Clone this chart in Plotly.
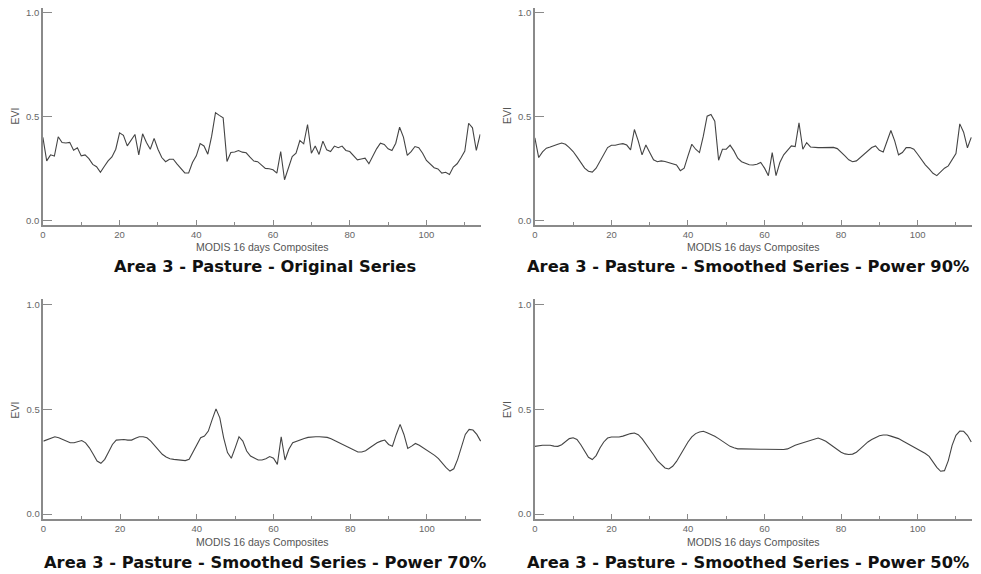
import plotly.graph_objects as go

x_vals = list(range(115))

original = [0.400, 0.287, 0.316, 0.310, 0.403, 0.375, 0.373, 0.376, 0.338, 0.350,
            0.311, 0.316, 0.298, 0.270, 0.259, 0.232, 0.260, 0.287, 0.306, 0.343,
            0.422, 0.410, 0.359, 0.390, 0.414, 0.316, 0.417, 0.375, 0.343, 0.395,
            0.343, 0.303, 0.283, 0.295, 0.295, 0.271, 0.248, 0.229, 0.229, 0.279,
            0.311, 0.370, 0.359, 0.319, 0.406, 0.519, 0.506, 0.494, 0.284, 0.327,
            0.330, 0.337, 0.329, 0.326, 0.305, 0.286, 0.283, 0.265, 0.251, 0.249,
            0.244, 0.228, 0.332, 0.196, 0.254, 0.308, 0.324, 0.385, 0.369, 0.462,
            0.324, 0.359, 0.318, 0.382, 0.340, 0.332, 0.358, 0.350, 0.358, 0.337,
            0.332, 0.313, 0.292, 0.296, 0.300, 0.273, 0.308, 0.345, 0.372, 0.366,
            0.345, 0.337, 0.372, 0.449, 0.401, 0.313, 0.332, 0.356, 0.350, 0.324,
            0.289, 0.273, 0.254, 0.248, 0.228, 0.232, 0.222, 0.257, 0.273, 0.302,
            0.334, 0.468, 0.446, 0.337, 0.414]

power90 = [0.398, 0.303, 0.330, 0.348, 0.354, 0.359, 0.367, 0.373, 0.367, 0.351,
           0.332, 0.306, 0.279, 0.252, 0.237, 0.233, 0.252, 0.287, 0.322, 0.351,
           0.362, 0.362, 0.367, 0.370, 0.363, 0.340, 0.438, 0.383, 0.316, 0.363,
           0.327, 0.292, 0.283, 0.287, 0.284, 0.279, 0.275, 0.267, 0.240, 0.252,
           0.311, 0.367, 0.343, 0.327, 0.406, 0.502, 0.510, 0.478, 0.290, 0.343,
           0.343, 0.363, 0.335, 0.300, 0.283, 0.275, 0.268, 0.267, 0.271, 0.279,
           0.252, 0.216, 0.327, 0.216, 0.279, 0.316, 0.335, 0.359, 0.356, 0.470,
           0.343, 0.375, 0.354, 0.351, 0.351, 0.351, 0.351, 0.352, 0.352, 0.346,
           0.330, 0.311, 0.292, 0.283, 0.287, 0.303, 0.319, 0.335, 0.351, 0.359,
           0.338, 0.330, 0.383, 0.433, 0.383, 0.316, 0.327, 0.351, 0.351, 0.343,
           0.319, 0.292, 0.268, 0.248, 0.227, 0.216, 0.232, 0.252, 0.263, 0.295,
           0.322, 0.465, 0.425, 0.350, 0.400]

power70 = [0.349, 0.357, 0.365, 0.370, 0.365, 0.357, 0.348, 0.341, 0.341, 0.348,
           0.352, 0.341, 0.317, 0.286, 0.254, 0.243, 0.262, 0.297, 0.333, 0.354,
           0.357, 0.357, 0.354, 0.354, 0.363, 0.370, 0.370, 0.365, 0.349, 0.329,
           0.306, 0.286, 0.273, 0.265, 0.262, 0.259, 0.256, 0.256, 0.262, 0.294,
           0.333, 0.365, 0.373, 0.397, 0.452, 0.503, 0.460, 0.365, 0.294, 0.267,
           0.317, 0.370, 0.349, 0.302, 0.278, 0.268, 0.259, 0.259, 0.265, 0.275,
           0.267, 0.238, 0.370, 0.259, 0.310, 0.341, 0.349, 0.354, 0.362, 0.367,
           0.370, 0.370, 0.370, 0.370, 0.367, 0.360, 0.351, 0.341, 0.332, 0.322,
           0.313, 0.303, 0.297, 0.297, 0.303, 0.316, 0.329, 0.341, 0.349, 0.354,
           0.333, 0.325, 0.381, 0.429, 0.381, 0.314, 0.325, 0.338, 0.329, 0.317,
           0.306, 0.294, 0.281, 0.265, 0.243, 0.222, 0.206, 0.217, 0.262, 0.325,
           0.381, 0.405, 0.402, 0.381, 0.349]

power50 = [0.324, 0.327, 0.329, 0.329, 0.329, 0.325, 0.324, 0.332, 0.348, 0.361,
           0.365, 0.357, 0.332, 0.300, 0.272, 0.261, 0.280, 0.316, 0.345, 0.364,
           0.369, 0.369, 0.369, 0.373, 0.380, 0.385, 0.388, 0.380, 0.361, 0.337,
           0.309, 0.284, 0.256, 0.236, 0.221, 0.216, 0.229, 0.252, 0.284, 0.316,
           0.345, 0.369, 0.385, 0.393, 0.396, 0.389, 0.381, 0.372, 0.361, 0.348,
           0.335, 0.324, 0.317, 0.312, 0.312, 0.311, 0.310, 0.310, 0.310, 0.310,
           0.310, 0.310, 0.309, 0.308, 0.308, 0.309, 0.312, 0.321, 0.329, 0.335,
           0.341, 0.348, 0.354, 0.361, 0.364, 0.357, 0.348, 0.335, 0.322, 0.309,
           0.296, 0.288, 0.285, 0.287, 0.296, 0.312, 0.329, 0.345, 0.357, 0.367,
           0.375, 0.378, 0.378, 0.373, 0.367, 0.361, 0.351, 0.341, 0.332, 0.321,
           0.309, 0.300, 0.290, 0.276, 0.248, 0.224, 0.205, 0.208, 0.256, 0.329,
           0.377, 0.397, 0.396, 0.377, 0.345]

titles = ["Area 3 - Pasture - Original Series",
          "Area 3 - Pasture - Smoothed Series - Power 90%",
          "Area 3 - Pasture - Smoothed Series - Power 70%",
          "Area 3 - Pasture - Smoothed Series - Power 50%"]
x_title = "MODIS 16 days Composites"
y_title = "EVI"
series = [original, power90, power70, power50]

W, H = 981, 574
# pixel layout for each panel: (x0, x1, ytop, ybottom, xmax, ymin, ymax)
panels = [
    (40, 479, 7, 225, 114.1, -0.0225, 1.0225),
    (533.5, 972, 7, 225, 114.2, -0.0225, 1.0225),
    (40.5, 479.5, 299.5, 520, 114.1, -0.024, 1.026),
    (533.5, 972, 299.5, 520, 114.2, -0.024, 1.026),
]
title_pos = [(263, 266), (747, 266), (263, 563), (747, 563)]
xlab_pos = [(260, 247), (752, 247), (260, 543), (752, 543)]
ylab_pos = [(12, 115), (505, 115), (12, 410), (505, 410)]

fig = go.Figure()
axis_color = "#8a8a8a"
tick_font = dict(family="Liberation Sans, Arial, sans-serif", size=9.5, color="#666666")

for k, (px0, px1, pyt, pyb, xmax, ymin, ymax) in enumerate(panels):
    n = "" if k == 0 else str(k + 1)
    fig.add_trace(go.Scatter(
        x=x_vals, y=series[k], mode="lines",
        line=dict(color="#444444", width=1.1),
        xaxis="x" + n, yaxis="y" + n, showlegend=False, hoverinfo="skip"))
    xa = dict(
        domain=[px0 / W, px1 / W], range=[0, xmax], anchor="y" + n,
        showgrid=False, zeroline=False, showline=True, linecolor=axis_color, linewidth=1.5,
        ticks="inside", ticklen=5, tickwidth=1, tickcolor=axis_color,
        tickmode="array", tickvals=[0, 20, 40, 60, 80, 100], ticktext=["0", "20", "40", "60", "80", "100"],
        minor=dict(tickvals=[10, 30, 50, 70, 90, 110], ticks="inside", ticklen=3, tickcolor=axis_color),
        tickfont=tick_font, fixedrange=True)
    ya = dict(
        domain=[1 - pyb / H, 1 - pyt / H], range=[ymin, ymax], anchor="x" + n,
        showgrid=False, zeroline=False, showline=True, linecolor=axis_color, linewidth=1.5,
        ticks="inside", ticklen=9, tickwidth=1, tickcolor=axis_color,
        tickmode="array", tickvals=[0, 0.5, 1.0], ticktext=["0.0", "0.5", "1.0"],
        tickfont=tick_font, fixedrange=True)
    fig.layout["xaxis" + n] = xa
    fig.layout["yaxis" + n] = ya

    tx, ty = title_pos[k]
    fig.add_annotation(text="<b>" + titles[k] + "</b>", x=tx / W, y=1 - ty / H,
                       xref="paper", yref="paper", showarrow=False,
                       xanchor="center", yanchor="middle",
                       font=dict(family="DejaVu Sans, Verdana, sans-serif", size=16.3, color="#111111"))
    lx, ly = xlab_pos[k]
    fig.add_annotation(text=x_title, x=lx / W, y=1 - ly / H, xref="paper", yref="paper",
                       showarrow=False, xanchor="center", yanchor="middle",
                       font=dict(family="Liberation Sans, Arial, sans-serif", size=10.5, color="#555555"))
    ex, ey = ylab_pos[k]
    fig.add_annotation(text=y_title, x=ex / W, y=1 - ey / H, xref="paper", yref="paper",
                       showarrow=False, xanchor="center", yanchor="middle", textangle=-90,
                       font=dict(family="Liberation Sans, Arial, sans-serif", size=10.5, color="#555555"))

fig.update_layout(width=W, height=H, margin=dict(l=0, r=0, t=0, b=0),
                  paper_bgcolor="white", plot_bgcolor="white")
fig.write_html("out.html")
